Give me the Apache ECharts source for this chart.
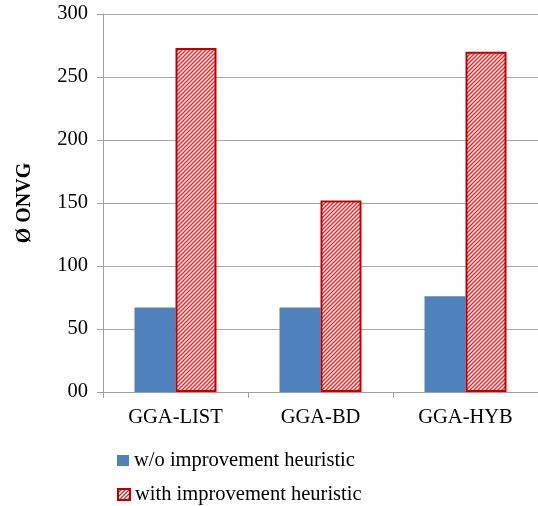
<!DOCTYPE html>
<html><head><meta charset="utf-8">
<script src="https://cdn.jsdelivr.net/npm/echarts@6/dist/echarts.min.js"></script>
<style>html,body{margin:0;padding:0;background:#fff}#c{width:538px;height:506px}</style>
</head><body><div id="c"></div>
<script>
const categories = ['GGA-LIST', 'GGA-BD', 'GGA-HYB'];
const withoutHeuristic = [67, 67, 76];
const withHeuristic = [273, 152, 270];
const seriesNames = ['w/o improvement heuristic', 'with improvement heuristic'];
const yTicks = [0, 50, 100, 150, 200, 250, 300];

function hatch() {
  const c = document.createElement('canvas');
  c.width = 4; c.height = 4;
  const g = c.getContext('2d');
  g.fillStyle = '#ffffff'; g.fillRect(0, 0, 4, 4);
  g.strokeStyle = '#d42a2a'; g.lineWidth = 1.4;
  g.beginPath();
  g.moveTo(-1, 5); g.lineTo(5, -1);
  g.moveTo(-1, 1); g.lineTo(1, -1);
  g.moveTo(3, 5); g.lineTo(5, 3);
  g.stroke();
  return { image: c, repeat: 'repeat' };
}
const font = '"Liberation Serif", "Times New Roman", serif';
const fs = 20.5;
const legendText = { fontFamily: font, fontSize: fs, color: '#000' };
const chart = echarts.init(document.getElementById('c'));
chart.setOption({
  animation: false,
  textStyle: { fontFamily: font },
  grid: { left: 103, top: 14, width: 438, height: 378 },
  legend: [
    { left: 112, top: 445, itemWidth: 12, itemHeight: 11, icon: 'rect',
      textStyle: legendText, data: [seriesNames[0]] },
    { left: 112, top: 479, itemWidth: 12, itemHeight: 11, icon: 'rect',
      textStyle: legendText, data: [seriesNames[1]] }
  ],
  xAxis: {
    type: 'category', data: categories,
    axisLine: { lineStyle: { color: '#a0a0a0' } },
    axisTick: { show: true, length: 6, lineStyle: { color: '#a0a0a0' } },
    axisLabel: { fontFamily: font, fontSize: fs, color: '#000', margin: 15 }
  },
  yAxis: {
    type: 'value', min: 0, max: 300, interval: 50,
    name: 'Ø ONVG', nameLocation: 'middle', nameGap: 68,
    nameTextStyle: { fontFamily: font, fontSize: 20, fontWeight: 'bold', color: '#000' },
    axisLine: { show: true, lineStyle: { color: '#a0a0a0' } },
    axisTick: { show: true, length: 6, lineStyle: { color: '#a0a0a0' } },
    splitLine: { lineStyle: { color: '#a8a8a8', width: 1 } },
    axisLabel: { fontFamily: font, fontSize: fs, color: '#000', margin: 15,
      formatter: v => (v === 0 ? '00' : String(v)) }
  },
  series: [
    { name: seriesNames[0], type: 'bar', data: withoutHeuristic,
      barWidth: 41, barGap: '0%',
      itemStyle: { color: '#4f81bd' } },
    { name: seriesNames[1], type: 'bar', data: withHeuristic,
      barWidth: 41,
      itemStyle: { color: hatch(), borderColor: '#c00000', borderWidth: 2 } }
  ]
});
</script></body></html>
